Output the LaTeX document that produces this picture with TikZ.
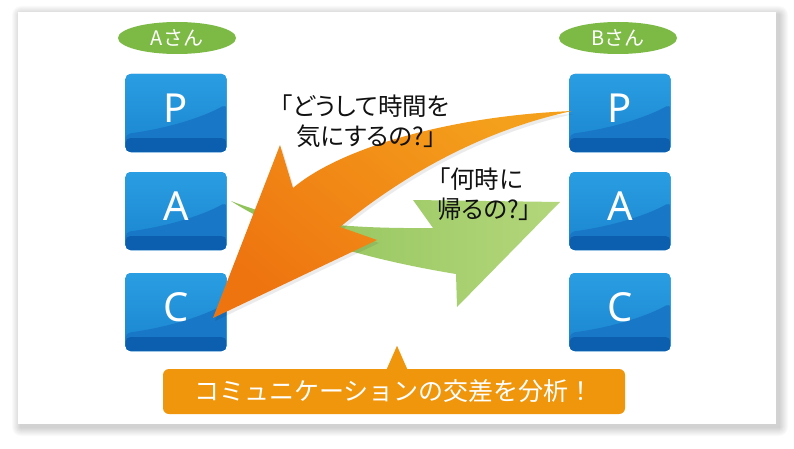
\documentclass[tikz,border=0pt]{standalone}
\usepackage{fontspec}
\usetikzlibrary{shapes.geometric}
\newfontfamily\jp{Noto Sans CJK JP}
\newfontfamily\jpp[RawFeature=+palt]{Noto Sans CJK JP}
\newfontfamily\lat{Noto Sans}
\definecolor{blkA}{HTML}{2A9EE2}
\definecolor{blkB}{HTML}{1A84D0}
\definecolor{blkC}{HTML}{1877C6}
\definecolor{blkD}{HTML}{0C5FAE}
\definecolor{grn}{HTML}{7CBA45}
\definecolor{grnA}{HTML}{8EC257}
\definecolor{grnB}{HTML}{B3D67B}
\definecolor{orC}{HTML}{F0960C}
\definecolor{orA}{HTML}{F4A01C}
\definecolor{orB}{HTML}{EE7410}
\definecolor{txt}{HTML}{111111}
\tikzset{
  blk/.style={rectangle, rounded corners=5pt, minimum width=101pt, minimum height=78pt,
    inner sep=0pt, fill=blkB, text=white, font=\lat\fontsize{40}{40}\selectfont,
    path picture={
      \shade[top color=blkA, bottom color=blkB]
        (path picture bounding box.south west) rectangle (path picture bounding box.north east);
      \fill[blkC] ([yshift=18pt]path picture bounding box.south west)
        .. controls ([shift={(45pt,24pt)}]path picture bounding box.south west)
        and ([shift={(80pt,36pt)}]path picture bounding box.south west)
        .. ([yshift=48pt]path picture bounding box.south east)
        -- (path picture bounding box.south east) -- (path picture bounding box.south west) -- cycle;
      \fill[blkD] (path picture bounding box.south west) rectangle ([yshift=14pt]path picture bounding box.south east);
    }},
  who/.style={ellipse, fill=grn, minimum width=118pt, minimum height=32pt, inner sep=0pt,
    text=white, font=\jp\fontsize{20}{20}\selectfont},
  quote/.style={anchor=base west, inner sep=0pt, text=txt, font=\jpp\fontsize{24.5}{24.5}\selectfont},
}
\begin{document}
\begin{tikzpicture}[x=1pt,y=1pt]
\useasboundingbox (0,0) rectangle (794,448);
\fill[white] (0,0) rectangle (794,448);
% panel shadow
\foreach \i in {1,...,9} {
  \fill[black, opacity=0.018, rounded corners=\i pt] (21-\i, 21-\i) rectangle (779+\i, 433+\i);
}
\fill[white] (18,24) rectangle (776,436);

% people labels
\node[who] (la) at (177,410) {Aさん};
\node[who] (lb) at (618,410) {Bさん};

% blocks
\node[blk] (aP) at (176,335) {\raisebox{10pt}{P}};
\node[blk] (aA) at (176,237) {\raisebox{10pt}{A}};
\node[blk] (aC) at (176,136) {\raisebox{10pt}{C}};
\node[blk] (bP) at (620,335) {\raisebox{10pt}{P}};
\node[blk] (bA) at (620,237) {\raisebox{10pt}{A}};
\node[blk] (bC) at (620,136) {\raisebox{10pt}{C}};

% green arrow
\shade[left color=grnA, right color=grnB]
  (231,247) .. controls (280,228) and (330,219) .. (433,220)
  -- (413,248) -- (560,246) -- (457,141) -- (456,174)
  .. controls (370,188) and (285,212) .. cycle;

% orange arrow shadow
\fill[black, opacity=0.08]
  (295,257) .. controls (342,297) and (452,329) .. (574,334)
  .. controls (472,312) and (392,259) .. (342,218)
  -- (379,205) -- (215,127) -- (282,300) -- cycle;
% orange arrow
\shade[top color=orA, bottom color=orB, shading angle=-40]
  (293,260) .. controls (340,300) and (450,332) .. (572,337)
  .. controls (470,315) and (390,262) .. (340,221)
  -- (377,208) -- (213,130) -- (280,303) -- cycle;

% quotes
\node[quote] (q1a) at (280,332) {「どうして時間を};
\node[quote] (q1b) at (296,303) {気にするの?」};
\node[quote] (q2a) at (438,260) {「何時に};
\node[quote] (q2b) at (437,230) {帰るの?」};

% callout
\node[rectangle, rounded corners=6pt, fill=orC, minimum width=462pt, minimum height=45pt,
  inner sep=0pt, text=white, font=\jp\fontsize{25}{25}\selectfont] (cal) at (394,56.5)
  {コミュニケーションの交差を分析！};
\fill[orC] ([xshift=-8pt,yshift=-2pt]cal.north) -- ([xshift=3pt,yshift=23pt]cal.north)
  -- ([xshift=14pt,yshift=-2pt]cal.north) -- cycle;
\end{tikzpicture}
\end{document}
